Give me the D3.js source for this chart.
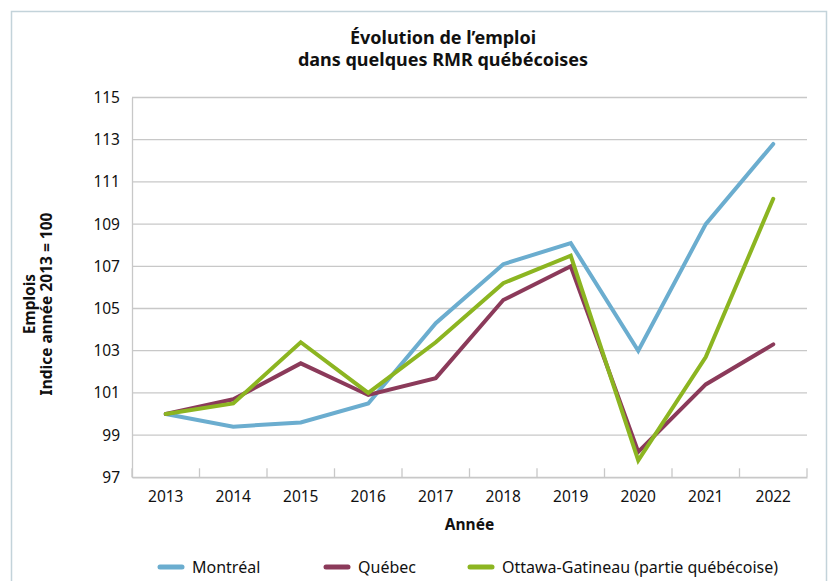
<!DOCTYPE html>
<html>
<head>
<meta charset="utf-8">
<title>Évolution de l'emploi</title>
<script src="https://cdnjs.cloudflare.com/ajax/libs/d3/7.8.5/d3.min.js"></script>
<style>
    body { margin:0; background:#fff; }
    svg { display:block; font-family:"Noto Sans", "Open Sans", sans-serif; }
</style>
</head>
<body>
<div id="chart"></div>
<script>
// data
var years = ['2013','2014','2015','2016','2017','2018','2019','2020','2021','2022'];
var montreal = [100, 99.4, 99.6, 100.5, 104.3, 107.1, 108.1, 103.0, 109.0, 112.8];
var quebec   = [100, 100.7, 102.4, 100.9, 101.7, 105.4, 107.0, 98.2, 101.4, 103.3];
var ottawa   = [100, 100.5, 103.4, 101.0, 103.4, 106.2, 107.5, 97.8, 102.7, 110.2];
var yTicks = [97, 99, 101, 103, 105, 107, 109, 111, 113, 115];

var series = [
    { name: 'Montréal', values: montreal, color: '#6badcf' },
    { name: 'Québec', values: quebec, color: '#8b3a5a' },
    { name: 'Ottawa-Gatineau (partie québécoise)', values: ottawa, color: '#8cb521' }
];

var width = 830, height = 581;
var plotLeft = 132, plotRight = 807, plotTop = 97.5, plotBottom = 477.3;

var svg = d3.select('#chart').append('svg')
    .attr('width', width)
    .attr('height', height);

// outer frame
svg.append('rect')
    .attr('x', 11.5).attr('y', 11.5)
    .attr('width', 815).attr('height', 600)
    .attr('fill', 'none')
    .attr('stroke', '#c3d3da')
    .attr('stroke-width', 1.5);

var x = d3.scaleBand().domain(years).range([plotLeft, plotRight]);
var y = d3.scaleLinear().domain([97, 115]).range([plotBottom, plotTop]);

// gridlines
svg.append('g')
    .selectAll('line')
    .data(yTicks)
    .enter().append('line')
    .attr('x1', plotLeft).attr('x2', plotRight)
    .attr('y1', function(d) { return y(d); })
    .attr('y2', function(d) { return y(d); })
    .attr('stroke', '#c8c8c8')
    .attr('stroke-width', 1.3);

// y axis
var yAxis = svg.append('g')
    .attr('transform', 'translate(' + plotLeft + ',0)')
    .call(d3.axisLeft(y).tickValues(yTicks).tickSize(0).tickPadding(12));
yAxis.select('.domain').attr('stroke', '#c8c8c8').attr('stroke-width', 1.3);
yAxis.selectAll('text').attr('font-size', '15.5px').attr('fill', '#111')
    .attr('font-family', '"Noto Sans", sans-serif');

// x axis with inner ticks at band edges
var xAxis = svg.append('g')
    .attr('transform', 'translate(0,' + plotBottom + ')')
    .call(d3.axisBottom(x).tickSize(0).tickPadding(14));
xAxis.select('.domain').attr('stroke', '#c8c8c8').attr('stroke-width', 1.3);
xAxis.selectAll('text').attr('font-size', '15.5px').attr('fill', '#111')
    .attr('font-family', '"Noto Sans", sans-serif');

var edges = years.map(function(d) { return x(d); }).concat([plotRight]);
svg.append('g')
    .selectAll('line')
    .data(edges)
    .enter().append('line')
    .attr('x1', function(d) { return d; })
    .attr('x2', function(d) { return d; })
    .attr('y1', plotBottom - 9).attr('y2', plotBottom)
    .attr('stroke', '#c8c8c8')
    .attr('stroke-width', 1.3);

// lines
var line = d3.line()
    .x(function(d, i) { return x(years[i]) + x.bandwidth() / 2; })
    .y(function(d) { return y(d); });

svg.append('g')
    .selectAll('path')
    .data(series)
    .enter().append('path')
    .attr('d', function(s) { return line(s.values); })
    .attr('fill', 'none')
    .attr('stroke', function(s) { return s.color; })
    .attr('stroke-width', 4)
    .attr('stroke-linejoin', 'miter')
    .attr('stroke-linecap', 'round');

// title
var title = svg.append('text')
    .attr('text-anchor', 'middle')
    .attr('font-weight', 'bold')
    .attr('font-size', '18px')
    .attr('fill', '#111');
title.append('tspan').attr('x', 443).attr('y', 44).text('Évolution de l’emploi');
title.append('tspan').attr('x', 443).attr('y', 66).text('dans quelques RMR québécoises');

// axis titles
var yTitle = svg.append('text')
    .attr('transform', 'translate(0,304) rotate(-90)')
    .attr('text-anchor', 'middle')
    .attr('font-weight', 'bold')
    .attr('font-size', '15.5px')
    .attr('fill', '#111');
yTitle.append('tspan').attr('x', 0).attr('y', 35).text('Emplois');
yTitle.append('tspan').attr('x', 0).attr('y', 52).text('Indice année 2013 = 100');

svg.append('text')
    .attr('x', (plotLeft + plotRight) / 2)
    .attr('y', 530)
    .attr('text-anchor', 'middle')
    .attr('font-weight', 'bold')
    .attr('font-size', '15.5px')
    .attr('fill', '#111')
    .text('Année');

// legend
var legendX = [160, 326, 470];
var legend = svg.append('g')
    .selectAll('g')
    .data(series)
    .enter().append('g')
    .attr('transform', function(s, i) { return 'translate(' + legendX[i] + ',567)'; });
legend.append('line')
    .attr('x1', 0).attr('x2', 22)
    .attr('stroke', function(s) { return s.color; })
    .attr('stroke-width', 5)
    .attr('stroke-linecap', 'round');
legend.append('text')
    .attr('x', 32)
    .attr('dy', '0.35em')
    .attr('font-size', '16px')
    .attr('fill', '#111')
    .text(function(s) { return s.name; });
</script>
</body>
</html>
